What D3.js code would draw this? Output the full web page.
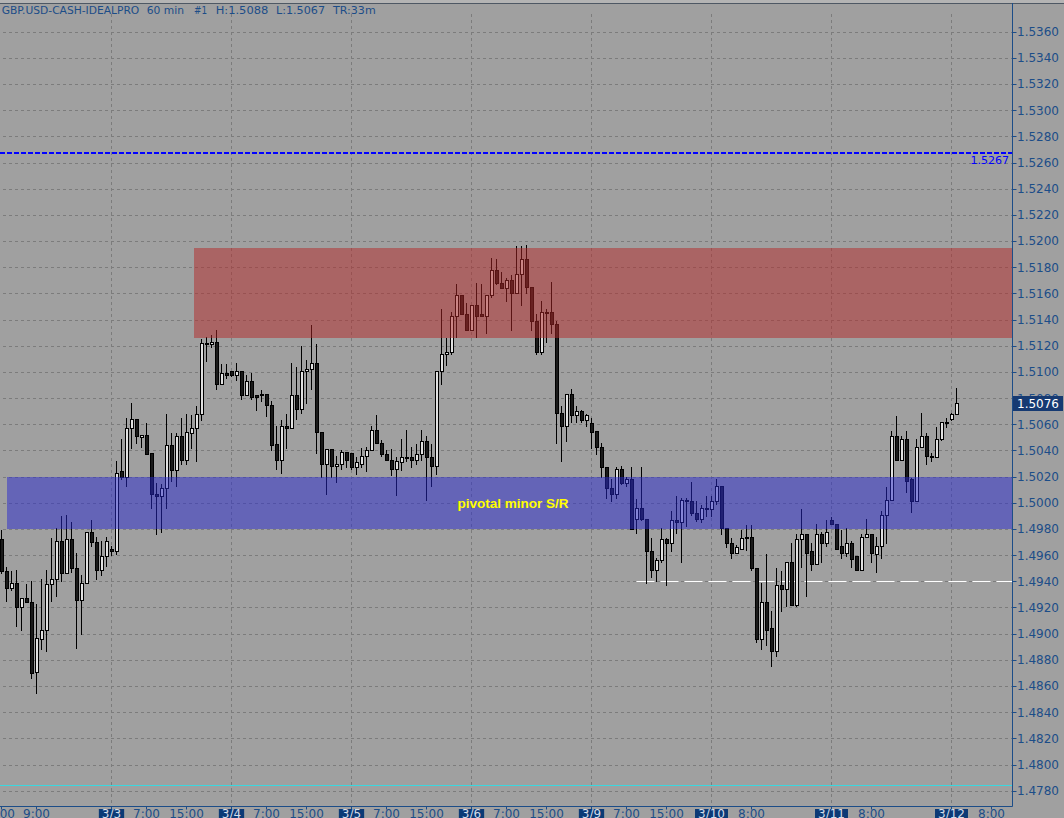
<!DOCTYPE html>
<html><head><meta charset="utf-8">
<script src="https://cdn.jsdelivr.net/npm/d3@7"></script>
<style>html,body{margin:0;padding:0;background:#a0a0a0;overflow:hidden}</style>
</head><body>
<svg id="c" width="1064" height="818"></svg>
<script>
// ---- data (GBP.USD 60 min bars) ----
const open = [
1.4972,1.4948,1.4935,1.4939,1.4920,1.4927,1.4924,1.4871,1.4896,1.4903,
1.4938,1.4942,1.4971,1.4946,1.4972,1.4950,1.4926,1.4939,1.4978,1.4970,
1.4949,1.4959,1.4965,1.4963,1.5024,1.5020,1.5057,1.5064,1.5050,1.5052,
1.5038,1.5007,1.5005,1.5011,1.5044,1.5025,1.5051,1.5033,1.5053,1.5057,
1.5068,1.5122,1.5121,1.5123,1.5091,1.5099,1.5101,1.5098,1.5101,1.5082,
1.5093,1.5082,1.5083,1.5083,1.5075,1.5045,1.5033,1.5059,1.5057,1.5082,
1.5072,1.5101,1.5102,1.5107,1.5054,1.5030,1.5041,1.5028,1.5030,1.5039,
1.5038,1.5027,1.5030,1.5036,1.5040,1.5056,1.5046,1.5037,1.5033,1.5026,
1.5031,1.5035,1.5035,1.5033,1.5037,1.5047,1.5035,1.5028,1.5101,1.5114,
1.5115,1.5143,1.5159,1.5144,1.5132,1.5151,1.5144,1.5143,1.5159,1.5178,
1.5168,1.5164,1.5170,1.5160,1.5175,1.5186,1.5165,1.5139,1.5115,1.5146,
1.5146,1.5137,1.5069,1.5059,1.5083,1.5067,1.5070,1.5063,1.5061,1.5055,
1.5043,1.5027,1.5011,1.5007,1.5026,1.5015,1.5018,1.4988,1.4996,1.4988,
1.4963,1.4949,1.4956,1.4972,1.4969,1.4987,1.4985,1.5002,1.5001,1.4992,
1.4988,1.4996,1.4995,1.5001,1.5013,1.4981,1.4969,1.4962,1.4965,1.4974,
1.4974,1.4950,1.4896,1.4924,1.4904,1.4887,1.4937,1.4934,1.4955,1.4922,
1.4972,1.4976,1.4963,1.4953,1.4976,1.4969,1.4987,1.4984,1.4967,1.4962,
1.4969,1.4959,1.4949,1.4974,1.4976,1.4961,1.4967,1.4991,1.5002,1.5051,
1.5033,1.5049,1.5018,1.5001,1.5043,1.5051,1.5036,1.5035,1.5049,1.5062,
1.5064,1.5068];
const high = [
1.4979,1.4951,1.4948,1.4949,1.4927,1.4938,1.4940,1.4923,1.4942,1.4949,
1.4973,1.4981,1.4990,1.4991,1.4985,1.4962,1.4945,1.4978,1.4987,1.4974,
1.4971,1.4974,1.4967,1.5032,1.5049,1.5065,1.5076,1.5064,1.5052,1.5061,
1.5038,1.5015,1.5014,1.5068,1.5053,1.5053,1.5065,1.5068,1.5067,1.5074,
1.5125,1.5127,1.5128,1.5132,1.5106,1.5106,1.5101,1.5107,1.5101,1.5098,
1.5099,1.5082,1.5086,1.5083,1.5078,1.5059,1.5063,1.5068,1.5107,1.5104,
1.5120,1.5109,1.5136,1.5121,1.5054,1.5041,1.5041,1.5036,1.5040,1.5039,
1.5038,1.5035,1.5042,1.5043,1.5059,1.5067,1.5048,1.5040,1.5041,1.5035,
1.5049,1.5056,1.5043,1.5045,1.5056,1.5051,1.5045,1.5101,1.5148,1.5126,
1.5146,1.5167,1.5159,1.5153,1.5151,1.5168,1.5167,1.5159,1.5187,1.5186,
1.5176,1.5172,1.5174,1.5196,1.5196,1.5197,1.5165,1.5144,1.5154,1.5148,
1.5169,1.5139,1.5074,1.5083,1.5087,1.5074,1.5071,1.5068,1.5065,1.5055,
1.5046,1.5027,1.5018,1.5027,1.5028,1.5020,1.5027,1.5003,1.5027,1.4988,
1.4973,1.4958,1.4981,1.4973,1.4994,1.5005,1.5004,1.5004,1.5016,1.5001,
1.4998,1.5005,1.5005,1.5018,1.5013,1.4981,1.4973,1.4968,1.4979,1.4983,
1.4983,1.4950,1.4939,1.4961,1.4917,1.4950,1.4948,1.4955,1.4969,1.4976,
1.4995,1.4976,1.4969,1.4984,1.4978,1.4987,1.4989,1.4984,1.4979,1.4981,
1.4971,1.4959,1.4976,1.4988,1.4976,1.4974,1.4994,1.5012,1.5055,1.5066,
1.5051,1.5055,1.5019,1.5049,1.5069,1.5053,1.5038,1.5058,1.5062,1.5065,
1.5069,1.5088];
const low = [
1.4946,1.4925,1.4933,1.4906,1.4903,1.4924,1.4866,1.4855,1.4888,1.4887,
1.4925,1.4929,1.4940,1.4946,1.4947,1.4889,1.4900,1.4939,1.4967,1.4942,
1.4945,1.4952,1.4960,1.4961,1.5018,1.5013,1.5042,1.5046,1.5043,1.5037,
1.4996,1.4976,1.4978,1.4996,1.5017,1.5013,1.5030,1.5030,1.5042,1.5032,
1.5063,1.5108,1.5119,1.5087,1.5091,1.5095,1.5097,1.5094,1.5079,1.5082,
1.5079,1.5071,1.5078,1.5066,1.5040,1.5026,1.5023,1.5042,1.5057,1.5064,
1.5069,1.5076,1.5087,1.5038,1.5020,1.5007,1.5020,1.5016,1.5026,1.5027,
1.5026,1.5022,1.5027,1.5024,1.5040,1.5046,1.5036,1.5033,1.5021,1.5006,
1.5025,1.5032,1.5027,1.5030,1.5033,1.5002,1.5013,1.5022,1.5091,1.5105,
1.5114,1.5127,1.5144,1.5132,1.5132,1.5127,1.5143,1.5130,1.5157,1.5167,
1.5164,1.5154,1.5132,1.5160,1.5151,1.5160,1.5132,1.5114,1.5114,1.5123,
1.5130,1.5046,1.5032,1.5047,1.5062,1.5062,1.5062,1.5059,1.5042,1.5037,
1.5020,1.5004,1.5001,1.5004,1.5014,1.5013,1.4980,1.4977,1.4987,1.4939,
1.4943,1.4940,1.4955,1.4937,1.4963,1.4977,1.4955,1.4982,1.4991,1.4986,
1.4985,1.4990,1.4990,1.4999,1.4976,1.4966,1.4958,1.4962,1.4965,1.4964,
1.4949,1.4894,1.4888,1.4891,1.4875,1.4883,1.4917,1.4921,1.4922,1.4921,
1.4951,1.4929,1.4949,1.4953,1.4955,1.4967,1.4984,1.4965,1.4958,1.4959,
1.4951,1.4949,1.4949,1.4974,1.4955,1.4947,1.4958,1.4969,1.5002,1.5033,
1.5033,1.5008,1.4993,1.5001,1.5043,1.5030,1.5032,1.5035,1.5048,1.5058,
1.5063,1.5068];
const close = [
1.4948,1.4935,1.4939,1.4920,1.4927,1.4924,1.4870,1.4897,1.4903,1.4938,
1.4942,1.4971,1.4946,1.4972,1.4950,1.4926,1.4939,1.4978,1.4970,1.4949,
1.4959,1.4971,1.4963,1.5023,1.5020,1.5057,1.5064,1.5051,1.5052,1.5037,
1.5007,1.5005,1.5011,1.5044,1.5025,1.5051,1.5033,1.5054,1.5057,1.5068,
1.5122,1.5121,1.5123,1.5091,1.5099,1.5098,1.5098,1.5101,1.5082,1.5093,
1.5081,1.5081,1.5082,1.5075,1.5044,1.5033,1.5059,1.5057,1.5082,1.5072,
1.5101,1.5102,1.5107,1.5054,1.5030,1.5041,1.5028,1.5030,1.5039,1.5033,
1.5027,1.5031,1.5036,1.5040,1.5056,1.5046,1.5037,1.5033,1.5026,1.5032,
1.5035,1.5034,1.5033,1.5037,1.5047,1.5035,1.5028,1.5101,1.5114,1.5115,
1.5143,1.5159,1.5144,1.5132,1.5151,1.5143,1.5143,1.5159,1.5178,1.5168,
1.5164,1.5170,1.5160,1.5175,1.5186,1.5165,1.5139,1.5115,1.5146,1.5145,
1.5137,1.5069,1.5059,1.5083,1.5067,1.5070,1.5063,1.5067,1.5054,1.5043,
1.5027,1.5011,1.5007,1.5026,1.5015,1.5018,1.4980,1.4996,1.4988,1.4963,
1.4949,1.4956,1.4972,1.4969,1.4987,1.4985,1.5002,1.5001,1.4992,1.4988,
1.4996,1.4995,1.5001,1.5013,1.4981,1.4969,1.4962,1.4966,1.4973,1.4973,
1.4950,1.4896,1.4924,1.4903,1.4887,1.4937,1.4934,1.4955,1.4922,1.4972,
1.4976,1.4962,1.4953,1.4976,1.4969,1.4978,1.4984,1.4965,1.4962,1.4969,
1.4957,1.4949,1.4974,1.4976,1.4962,1.4967,1.4991,1.5002,1.5051,1.5033,
1.5049,1.5017,1.5001,1.5043,1.5051,1.5036,1.5035,1.5049,1.5062,1.5061,
1.5068,1.5076];

const yTicks = [1.4780,1.4800,1.4820,1.4840,1.4860,1.4880,1.4900,1.4920,1.4940,1.4960,
1.4980,1.5000,1.5020,1.5040,1.5060,1.5080,1.5100,1.5120,1.5140,1.5160,
1.5180,1.5200,1.5220,1.5240,1.5260,1.5280,1.5300,1.5320,1.5340,1.5360];
const timeTickBars = [0,7,29,37,53,61,77,85,101,109,125,133,150,174,198];
const timeTickLabels = ["2:00","9:00","7:00","15:00","7:00","15:00","7:00","15:00","7:00","15:00","7:00","15:00","8:00","8:00","8:00"];
const dateTickBars = [22,46,70,94,118,142,166,190];
const dateTickLabels = ["3/3","3/4","3/5","3/6","3/9","3/10","3/11","3/12"];

const resistZone = {from: 38.5, lo: 1.5126, hi: 1.5195};
const supportZone = {from: 1.1, lo: 1.4980, hi: 1.5020, label: "pivotal minor S/R"};
const bluePriceLine = 1.5267;
const whiteDashPrice = 1.4940, whiteDashFrom = 127;
const cyanPrice = 1.4784;
const lastPrice = 1.5076;
const header = ["GBP.USD-CASH-IDEALPRO","60 min","#1","H:1.5088","L:1.5067","TR:33m"];

// ---- drawing ----
const svg = d3.select('#c');
const navy = '#1c4d88';
const axisX = 1012.5, axisY = 806.5;
const x = d3.scaleLinear().domain([0, 1]).range([1.5, 6.5]);
const y = d3.scaleLinear().domain([1.4780, 1.5360]).range([790.7, 31.7]);
const py = v => Math.round(y(v)) + 0.5;
const font = "'DejaVu Sans', sans-serif";

svg.append('rect').attr('width',1064).attr('height',818).attr('fill','#a0a0a0');
svg.append('rect').attr('width',1064).attr('height',3).attr('fill','#b4b4b4');
svg.append('line').attr('x1',0).attr('x2',1064).attr('y1',3.5).attr('y2',3.5).attr('stroke','#4e5864');

// grid
const grid = svg.append('g').attr('stroke','#7c7c7c').attr('stroke-dasharray','3,3').attr('stroke-width',1);
grid.selectAll('line.h').data(yTicks).join('line').attr('class','h')
  .attr('x1',3).attr('x2',axisX).attr('y1',d=>py(d)).attr('y2',d=>py(d));
grid.selectAll('line.v').data(dateTickBars).join('line').attr('class','v')
  .attr('x1',d=>x(d)).attr('x2',d=>x(d)).attr('y1',14).attr('y2',axisY);

// cyan line
svg.append('line').attr('x1',0).attr('x2',axisX).attr('y1',py(cyanPrice)).attr('y2',py(cyanPrice))
  .attr('stroke','#3ad8e0').attr('stroke-width',1);

// blue dashed price line
svg.append('line').attr('x1',0).attr('x2',axisX).attr('y1',Math.round(y(bluePriceLine))).attr('y2',Math.round(y(bluePriceLine)))
  .attr('stroke','#0000ff').attr('stroke-width',2).attr('stroke-dasharray','5,2');
svg.append('text').attr('x',1009).attr('y',Math.round(y(bluePriceLine))+10.5).attr('text-anchor','end')
  .attr('font-family',font).attr('font-size',11).attr('fill','#0000ff').text(bluePriceLine.toFixed(4));

// white dashed line
svg.append('line').attr('x1',x(whiteDashFrom)).attr('x2',axisX).attr('y1',py(whiteDashPrice)).attr('y2',py(whiteDashPrice))
  .attr('stroke','#ffffff').attr('stroke-width',1).attr('stroke-dasharray','18,6');

// candles
const bars = d3.range(open.length).map(i => ({i, o:open[i], h:high[i], l:low[i], c:close[i]}));
const cg = svg.append('g');
cg.selectAll('line.w').data(bars).join('line').attr('class','w')
  .attr('x1',d=>x(d.i)).attr('x2',d=>x(d.i))
  .attr('y1',d=>Math.round(y(d.h))).attr('y2',d=>Math.round(y(d.l))+1)
  .attr('stroke','#000').attr('stroke-width',1);
cg.selectAll('rect.b').data(bars).join('rect').attr('class','b')
  .attr('x',d=>x(d.i)-1).attr('width',3)
  .attr('y',d=>py(Math.max(d.o,d.c)))
  .attr('height',d=>Math.max(1, py(Math.min(d.o,d.c)) - py(Math.max(d.o,d.c))))
  .attr('fill',d=>d.c>=d.o ? '#e2e2e2' : '#1a1a1a')
  .attr('stroke','#000').attr('stroke-width',1);

// zones (translucent, over the candles)
svg.append('rect').attr('x',x(resistZone.from)).attr('width',axisX - x(resistZone.from))
  .attr('y',Math.round(y(resistZone.hi))).attr('height',Math.round(y(resistZone.lo)) - Math.round(y(resistZone.hi)))
  .attr('fill','rgb(180,40,40)').attr('fill-opacity',0.5);
svg.append('rect').attr('x',x(supportZone.from)).attr('width',axisX - x(supportZone.from))
  .attr('y',Math.round(y(supportZone.hi))).attr('height',Math.round(y(supportZone.lo)) - Math.round(y(supportZone.hi)))
  .attr('fill','rgb(40,40,205)').attr('fill-opacity',0.5);
svg.append('text').attr('x',513).attr('y',(y(supportZone.hi)+y(supportZone.lo))/2 + 5)
  .attr('text-anchor','middle').attr('font-family',"'Liberation Sans', Arial, sans-serif")
  .attr('font-weight','bold').attr('font-size',13.5).attr('fill','#ffff00').text(supportZone.label);

// header
const hx = [1.7,146.7,194,215.7,276,333];
const hw = [137.6,37.3,13,52.6,49,42.7];
svg.append('g').selectAll('text').data(header).join('text')
  .attr('x',(d,i)=>hx[i]).attr('y',14).attr('textLength',(d,i)=>hw[i]).attr('lengthAdjust','spacingAndGlyphs')
  .attr('font-family',font).attr('font-size',11).attr('fill',navy).text(d=>d);

// right axis
svg.append('line').attr('x1',axisX).attr('x2',axisX).attr('y1',3).attr('y2',axisY).attr('stroke',navy);
const ra = svg.append('g').attr('font-family',font).attr('font-size',12).attr('fill',navy);
ra.selectAll('line').data(yTicks).join('line')
  .attr('x1',axisX).attr('x2',axisX+4).attr('y1',d=>py(d)).attr('y2',d=>py(d)).attr('stroke',navy);
ra.selectAll('text').data(yTicks).join('text')
  .attr('x',1017).attr('y',d=>y(d)+4.4).text(d=>d.toFixed(4));

// last price box
const lpY = y(lastPrice);
svg.append('rect').attr('x',1013).attr('y',Math.round(lpY)-7).attr('width',50).attr('height',15).attr('fill','#163a72');
svg.append('text').attr('x',1017).attr('y',lpY+4.4).attr('font-family',font).attr('font-size',12)
  .attr('fill','#ffffff').text(lastPrice.toFixed(4));

// bottom axis
svg.append('line').attr('x1',0).attr('x2',axisX).attr('y1',axisY).attr('y2',axisY).attr('stroke',navy);
const ba = svg.append('g').attr('font-family',font).attr('font-size',12);
ba.selectAll('line.t').data(timeTickBars.concat(dateTickBars)).join('line').attr('class','t')
  .attr('x1',d=>x(d)).attr('x2',d=>x(d)).attr('y1',axisY).attr('y2',axisY+3).attr('stroke',navy);
ba.selectAll('text.t').data(timeTickBars).join('text').attr('class','t')
  .attr('x',d=>x(d)).attr('y',818).attr('text-anchor','middle').attr('fill',navy)
  .text((d,i)=>timeTickLabels[i]);
const dg = ba.selectAll('g.d').data(dateTickBars).join('g').attr('class','d');
dg.each(function(d,i){
  const g = d3.select(this);
  const r = g.append('rect').attr('fill','#0c3a76');
  const t = g.append('text').attr('x',x(d)).attr('y',818).attr('text-anchor','middle')
    .attr('fill','#d4dce8').text(dateTickLabels[i]);
  const w = t.node().getComputedTextLength() + 6;
  r.attr('x',x(d)-w/2).attr('y',809).attr('width',w).attr('height',9);
  t.raise();
});
</script>
</body></html>
